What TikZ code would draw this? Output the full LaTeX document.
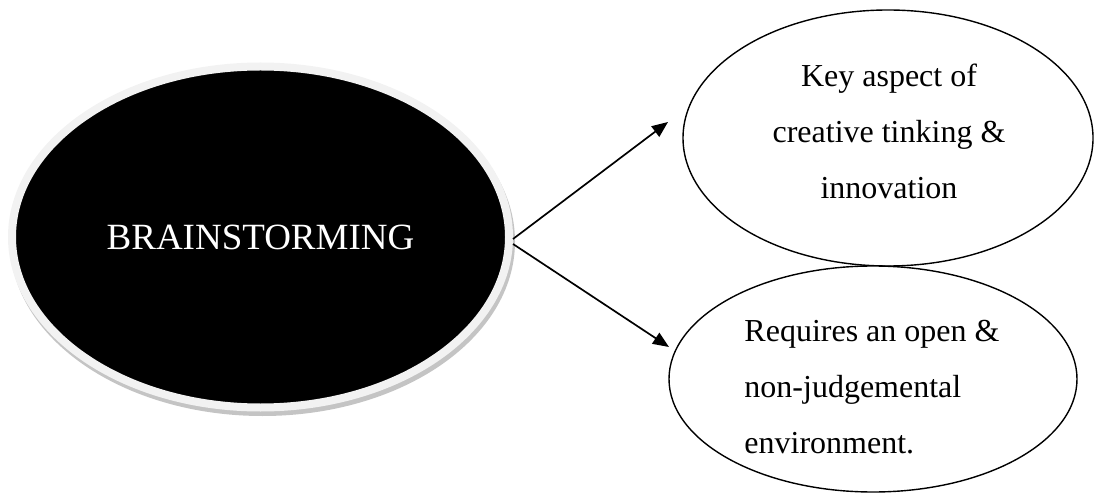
\documentclass[tikz,border=0pt]{standalone}
\usepackage{fontspec}
\setmainfont{Liberation Serif}
\usetikzlibrary{arrows.meta,shapes.geometric}
\definecolor{ringgray}{HTML}{F2F2F2}
\definecolor{shadowgray}{HTML}{C4C4C4}
\begin{document}
\begin{tikzpicture}[x=1pt,y=-1pt,
  mainell/.style={ellipse, fill=black, draw=ringgray, line width=8pt,
    minimum width=497pt, minimum height=341pt, inner sep=0pt,
    text=white, font=\fontsize{37}{40}\selectfont},
  ell/.style={ellipse, draw=black, line width=1.4pt, fill=white, inner sep=0pt},
  txt/.style={font=\fontsize{32}{56}\selectfont, inner sep=0pt},
  arr/.style={line width=1.7pt, -{Triangle[length=16pt,width=13pt]}}
]
\useasboundingbox (0,0) rectangle (1094,502);
% shadow ring of the central ellipse
\draw[shadowgray, line width=8pt] (262.5,241.5) ellipse [x radius=248.5, y radius=170.5];
\node[mainell] (main) at (260.5,237) {BRAINSTORMING};
\node[ell, minimum width=410pt, minimum height=256pt] (key) at (888,138) {};
\node[ell, minimum width=408pt, minimum height=226pt] (req) at (873,379) {};
\node[txt, align=center] (keyt) at (889,131) {Key aspect of\\creative tinking \&\\innovation};
\node[txt, align=left] (reqt) at (872,387) {Requires an open \&\\non-judgemental\\environment.};
\coordinate (tip1) at (668,122);
\coordinate (tip2) at (669,347);
\draw[arr] ([yshift=-2pt]main.east) -- (tip1);
\draw[arr] ([yshift=-7pt]main.east) -- (tip2);
\end{tikzpicture}
\end{document}
